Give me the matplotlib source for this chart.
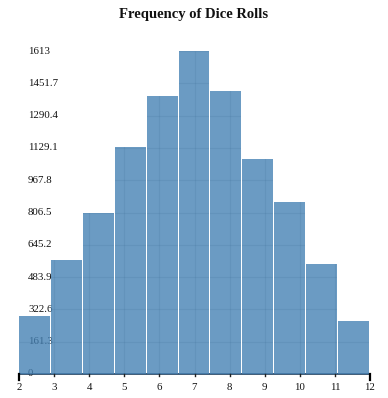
import matplotlib
matplotlib.use("Agg")
import matplotlib.pyplot as plt
import numpy as np

# Data
sums = [2, 3, 4, 5, 6, 7, 8, 9, 10, 11, 12]
counts = [290, 569, 804, 1133, 1388, 1613, 1413, 1073, 859, 549, 265]
x_ticks = [2, 3, 4, 5, 6, 7, 8, 9, 10, 11, 12]
y_max = 1613
y_ticks = [round(y_max * i / 10, 1) for i in range(11)]
y_tick_labels = ["0", "161.3", "322.6", "483.9", "645.2", "806.5", "967.8",
                 "1129.1", "1290.4", "1451.7", "1613"]
title = "Frequency of Dice Rolls"

W, H = 388, 398
fig = plt.figure(figsize=(W / 100, H / 100), dpi=100)
left, right = 19 / W, 370 / W
bottom, top = (H - 374) / H, (H - 51) / H
ax = fig.add_axes([left, bottom, right - left, top - bottom])
ax.set_xlim(2, 12)
ax.set_ylim(0, y_max)
for s in ax.spines.values():
    s.set_visible(False)

serif = ["Liberation Serif", "DejaVu Serif"]

# bars: 11 equal bins spread across the 2..12 domain
n = len(sums)
step = (x_ticks[-1] - x_ticks[0]) / n
gap = (x_ticks[-1] - x_ticks[0]) / 351.0
lefts = [x_ticks[0] + i * step for i in range(n)]
bars = ax.bar(lefts, counts, width=step - gap, align="edge",
              color="#4682b4", alpha=0.8, linewidth=0, zorder=2)

# faint grid visible only inside the bars
for b in bars:
    hl = ax.hlines(y_ticks[1:], 2, 12, colors="#2d5b85", linewidths=0.8,
                   alpha=0.12, zorder=3)
    hl.set_clip_path(b)
    vl = ax.vlines(x_ticks[1:-1], 0, y_max, colors="#2d5b85", linewidths=0.8,
                   alpha=0.12, zorder=3)
    vl.set_clip_path(b)

# x axis line (under bars)
ax.plot([2, 12], [0, 0], color="#1f3f5f", lw=1.2, zorder=1.5, clip_on=False)
xt = ax.get_xaxis_transform()
for xv in (x_ticks[0], x_ticks[-1]):
    ax.plot([xv, xv], [0, -6 / 323], color="black", lw=1.6, transform=xt,
            clip_on=False, zorder=4)
for xv in x_ticks[1:-1]:
    ax.plot([xv, xv], [0, -1.5 / 323], color="#222222", lw=1.0, transform=xt,
            clip_on=False, zorder=4)

ax.set_xticks([])
ax.set_yticks([])
for xv in x_ticks:
    ax.text(xv, -14 / 323, str(xv), transform=xt, ha="center", va="center",
            fontsize=7.8, family=serif, color="#111111", clip_on=False)

# y labels drawn inside the plot area, beneath the bars
yt = ax.get_yaxis_transform()
for yv, lab in zip(y_ticks, y_tick_labels):
    ax.text(9 / 351, yv, lab, transform=yt, ha="left", va="center",
            fontsize=7.8, family=serif, color="#111111", zorder=1, clip_on=False)

fig.text(194 / W, 1 - 14.5 / H, title, ha="center", va="center",
         fontsize=10.5, fontweight="bold", family=serif, color="#111111")

fig.savefig("out.png", dpi=100)
